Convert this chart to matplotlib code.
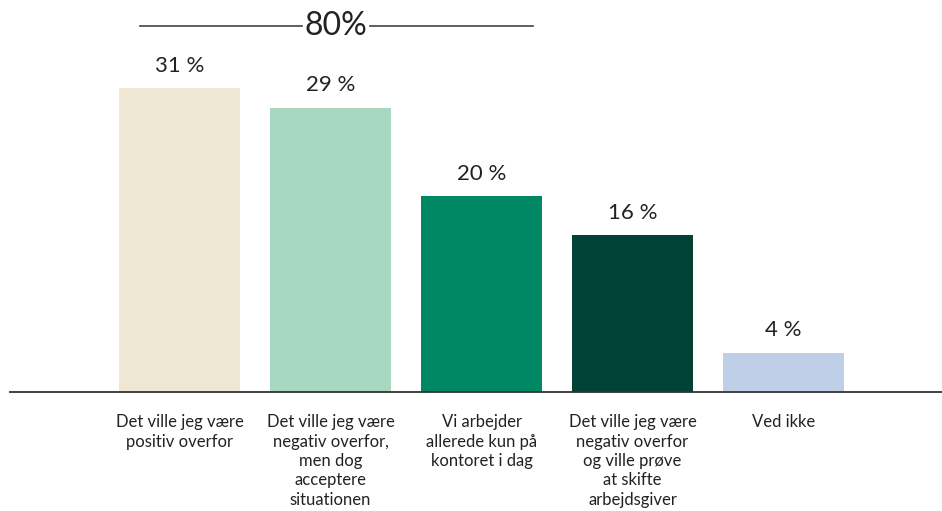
import matplotlib
matplotlib.use("Agg")
import matplotlib.pyplot as plt

categories = [
    "Det ville jeg være\npositiv overfor",
    "Det ville jeg være\nnegativ overfor,\nmen dog\nacceptere\nsituationen",
    "Vi arbejder\nallerede kun på\nkontoret i dag",
    "Det ville jeg være\nnegativ overfor\nog ville prøve\nat skifte\narbejdsgiver",
    "Ved ikke",
]
values = [31, 29, 20, 16, 4]
value_labels = ["31 %", "29 %", "20 %", "16 %", "4 %"]
colors = ["#EEE7D4", "#A8D8C0", "#008763", "#004236", "#BFCFE8"]
bracket_label = "80%"
bracket_span = (0, 2)  # bars included in the bracket

plt.rcParams['font.family'] = ['Lato', 'DejaVu Sans']
txt = "#222222"

fig = plt.figure(figsize=(9.42, 5.11), dpi=100)
ax = fig.add_axes([0, 1 - 392/511, 1, 392/511])
x = list(range(len(values)))
ax.bar(x, values, width=0.80, color=colors)
xmin = -179.5/151
ax.set_xlim(xmin, xmin + 942/151)
ax.set_ylim(0, 40)
for s in ["top", "right", "left"]:
    ax.spines[s].set_visible(False)
ax.spines["bottom"].set_color("#333333")
ax.spines["bottom"].set_linewidth(1.3)
ax.spines["bottom"].set_bounds(xmin + 10/151, xmin + 942/151)
ax.set_yticks([])
ax.set_xticks(x)
ax.set_xticklabels(categories, fontsize=12, color=txt, linespacing=1.26, va="top")
ax.tick_params(axis="x", length=0, pad=16)

for xi, v, lab in zip(x, values, value_labels):
    ax.annotate(lab, (xi, v), xytext=(0, 9), textcoords="offset points",
                ha="center", va="bottom", fontsize=16, color=txt)

# bracket
y_b = (392 - 26) / 9.8
x0 = bracket_span[0] - 0.262
x1 = bracket_span[1] + 0.341
xm = 1.036
gap = 0.225
ax.plot([x0, xm - gap], [y_b, y_b], color="#444444", lw=1.2, clip_on=False)
ax.plot([xm + gap, x1], [y_b, y_b], color="#444444", lw=1.2, clip_on=False)
ax.text(xm, y_b, bracket_label, ha="center", va="center", fontsize=23, color=txt)

fig.savefig("out.png", dpi=100)
